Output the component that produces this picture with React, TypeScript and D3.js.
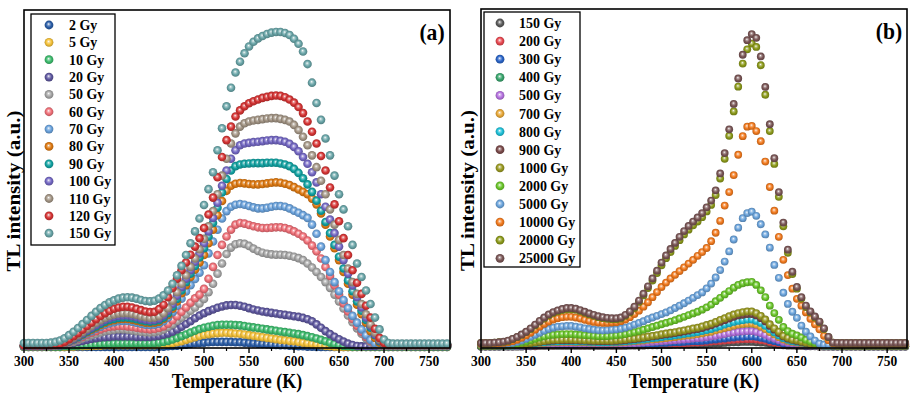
import React from "react";
import * as d3 from "d3";

// ---------- shared x grid (K) ----------
const TEMPERATURES = [
  300, 305, 310, 315, 320, 325, 330, 335, 340, 345,
  350, 355, 360, 365, 370, 375, 380, 385, 390, 395,
  400, 405, 410, 415, 420, 425, 430, 435, 440, 445,
  450, 455, 460, 465, 470, 475, 480, 485, 490, 495,
  500, 505, 510, 515, 520, 525, 530, 535, 540, 545,
  550, 555, 560, 565, 570, 575, 580, 585, 590, 595,
  600, 605, 610, 615, 620, 625, 630, 635, 640, 645,
  650, 655, 660, 665, 670, 675, 680, 685, 690, 695,
  700, 705, 710, 715, 720, 725, 730, 735, 740, 745,
  750, 755, 760, 765, 770,
];
const X_TICKS = [300, 350, 400, 450, 500, 550, 600, 650, 700, 750];

// ---------- panel (a) ----------
const LABELS_A = ["2 Gy", "5 Gy", "10 Gy", "20 Gy", "50 Gy", "60 Gy", "70 Gy", "80 Gy", "90 Gy", "100 Gy", "110 Gy", "120 Gy", "150 Gy"];
const COLORS_A = ["#2b5ea8", "#f5c23a", "#3dbb6d", "#5f58a0", "#a6a6a6", "#f07078", "#6aa2dc", "#df7a12", "#12a3a3", "#7468c4", "#a39585", "#d63434", "#69a5a8"];

const A_2 = [
  0.3, 0.3, 0.3, 0.3, 0.3, 0.3, 0.3, 0.3, 0.3, 0.3,
  0.3, 0.3, 0.3, 0.3, 0.3, 0.3, 0.3, 0.3, 0.3, 0.3,
  0.3, 0.3, 0.3, 0.3, 0.3, 0.3, 0.3, 0.3, 0.3, 0.3,
  0.4, 0.4, 0.5, 0.6, 0.7, 0.8, 1, 1.2, 1.4, 1.5,
  1.6, 1.7, 1.8, 1.8, 1.8, 1.8, 1.8, 1.7, 1.7, 1.6,
  1.5, 1.4, 1.3, 1.2, 1.1, 1, 0.9, 0.8, 0.8, 0.7,
  0.6, 0.5, 0.5, 0.4, 0.4, 0.3, 0.3, 0.3, 0.3, 0.3,
  0.3, 0.3, 0.3, 0.3, 0.3, 0.3, 0.3, 0.3, 0.3, 0.3,
  0.3, 0.3, 0.3, 0.3, 0.3, 0.3, 0.3, 0.3, 0.3, 0.3,
  0.3, 0.3, 0.3, 0.3, 0.3,
];
const A_5 = [
  0.3, 0.3, 0.3, 0.3, 0.3, 0.3, 0.3, 0.3, 0.3, 0.3,
  0.4, 0.4, 0.5, 0.5, 0.6, 0.6, 0.7, 0.7, 0.8, 0.8,
  0.8, 0.8, 0.8, 0.8, 0.8, 0.8, 0.8, 0.8, 0.8, 0.8,
  0.9, 1, 1.2, 1.4, 1.7, 2, 2.4, 2.8, 3.2, 3.6,
  3.9, 4.1, 4.3, 4.4, 4.5, 4.5, 4.4, 4.3, 4.2, 4,
  3.8, 3.6, 3.4, 3.2, 3, 2.8, 2.6, 2.4, 2.3, 2.1,
  2, 1.8, 1.6, 1.4, 1.2, 1, 0.8, 0.6, 0.5, 0.4,
  0.3, 0.3, 0.3, 0.3, 0.3, 0.3, 0.3, 0.3, 0.3, 0.3,
  0.3, 0.3, 0.3, 0.3, 0.3, 0.3, 0.3, 0.3, 0.3, 0.3,
  0.3, 0.3, 0.3, 0.3, 0.3,
];
const A_10 = [
  0.4, 0.4, 0.4, 0.4, 0.4, 0.4, 0.4, 0.4, 0.4, 0.5,
  0.5, 0.6, 0.7, 0.8, 0.9, 1, 1.1, 1.2, 1.3, 1.3,
  1.4, 1.4, 1.4, 1.4, 1.4, 1.4, 1.4, 1.4, 1.4, 1.5,
  1.6, 1.8, 2.1, 2.5, 3, 3.5, 4, 4.6, 5.1, 5.6,
  6, 6.3, 6.6, 6.8, 6.9, 6.9, 6.9, 6.8, 6.7, 6.5,
  6.3, 6.1, 5.9, 5.7, 5.5, 5.3, 5.1, 4.9, 4.7, 4.5,
  4.3, 4.1, 3.8, 3.5, 3.2, 2.8, 2.4, 2, 1.6, 1.2,
  0.9, 0.6, 0.5, 0.4, 0.4, 0.4, 0.4, 0.4, 0.4, 0.4,
  0.4, 0.4, 0.4, 0.4, 0.4, 0.4, 0.4, 0.4, 0.4, 0.4,
  0.4, 0.4, 0.4, 0.4, 0.4,
];
const A_20 = [
  0.5, 0.5, 0.5, 0.5, 0.5, 0.5, 0.5, 0.6, 0.7, 0.9,
  1.2, 1.5, 1.8, 2.1, 2.4, 2.7, 2.9, 3.1, 3.2, 3.3,
  3.4, 3.4, 3.4, 3.4, 3.4, 3.3, 3.3, 3.3, 3.3, 3.4,
  3.6, 3.9, 4.3, 4.8, 5.5, 6.3, 7.1, 7.9, 8.8, 9.6,
  10.3, 10.9, 11.4, 11.9, 12.3, 12.6, 12.7, 12.7, 12.5, 12.2,
  11.8, 11.4, 11.1, 10.8, 10.6, 10.4, 10.2, 10, 9.8, 9.6,
  9.4, 9.2, 8.9, 8.5, 7.9, 7, 6, 5, 4.1, 3.3,
  2.6, 1.9, 1.3, 0.9, 0.6, 0.5, 0.5, 0.5, 0.5, 0.5,
  0.5, 0.5, 0.5, 0.5, 0.5, 0.5, 0.5, 0.5, 0.5, 0.5,
  0.5, 0.5, 0.5, 0.5, 0.5,
];
const A_50 = [
  0.5, 0.5, 0.5, 0.5, 0.5, 0.5, 0.6, 0.7, 0.8, 1.1,
  1.4, 1.8, 2.3, 2.8, 3.3, 3.8, 4.2, 4.6, 5, 5.2,
  5.4, 5.5, 5.5, 5.4, 5.2, 5, 4.8, 4.7, 4.6, 4.7,
  5, 5.5, 6.2, 7, 8, 9, 10, 11, 12, 13.2,
  14.5, 16.5, 19, 22, 25, 27.8, 29.7, 30.7, 31, 30.8,
  30.2, 29.4, 28.7, 28.2, 27.9, 27.7, 27.6, 27.6, 27.5, 27.3,
  27, 26.6, 26, 25, 23.8, 22.5, 21, 19.5, 17.8, 15.8,
  13.8, 11.7, 9.6, 7.6, 5.8, 4.2, 2.8, 1.7, 1, 0.7,
  0.6, 0.6, 0.6, 0.6, 0.6, 0.6, 0.6, 0.6, 0.6, 0.6,
  0.6, 0.6, 0.6, 0.6, 0.6,
];
const A_60 = [
  0.6, 0.6, 0.6, 0.6, 0.6, 0.6, 0.7, 0.8, 1, 1.3,
  1.7, 2.2, 2.7, 3.3, 3.9, 4.5, 5, 5.5, 5.9, 6.2,
  6.4, 6.5, 6.5, 6.4, 6.2, 6, 5.8, 5.6, 5.5, 5.6,
  5.9, 6.4, 7.2, 8.2, 9.4, 10.7, 12, 13.4, 14.7, 15.8,
  17.5, 20.5, 24, 27.5, 30.5, 33, 35, 36.5, 37, 36.8,
  36.4, 36, 35.7, 35.5, 35.5, 35.6, 35.7, 35.7, 35.5, 35.1,
  34.5, 33.8, 33, 31.8, 30.3, 28.6, 26.5, 24, 21.3, 18.5,
  15.8, 13.2, 10.8, 8.6, 6.6, 4.8, 3.3, 2.1, 1.3, 0.9,
  0.8, 0.8, 0.8, 0.8, 0.8, 0.8, 0.8, 0.8, 0.8, 0.8,
  0.8, 0.8, 0.8, 0.8, 0.8,
];
const A_70 = [
  0.7, 0.7, 0.7, 0.7, 0.7, 0.7, 0.8, 0.9, 1, 1.3,
  1.8, 2.3, 2.9, 3.6, 4.3, 5, 5.7, 6.3, 6.9, 7.3,
  7.6, 7.9, 8, 8, 7.8, 7.5, 7.2, 6.9, 6.8, 6.9,
  7.2, 7.9, 9, 10.6, 12.5, 14.6, 16.7, 18.6, 20.4, 22.3,
  24.5, 28, 31.5, 35, 38.3, 40.5, 41.8, 42.4, 42.6, 42.4,
  42, 41.6, 41.3, 41.3, 41.5, 41.8, 42, 42, 41.8, 41.3,
  40.6, 40, 39.3, 38.5, 36.5, 33.8, 30, 26, 22.5, 19.5,
  16.8, 14.2, 11.8, 9.5, 7.5, 5.5, 3.8, 2.4, 1.4, 1,
  0.9, 0.9, 0.9, 0.9, 0.9, 0.9, 0.9, 0.9, 0.9, 0.9,
  0.9, 0.9, 0.9, 0.9, 0.9,
];
const A_80 = [
  0.7, 0.7, 0.7, 0.7, 0.7, 0.7, 0.8, 0.9, 1.1, 1.4,
  1.9, 2.5, 3.2, 3.9, 4.7, 5.4, 6.1, 6.8, 7.4, 7.9,
  8.2, 8.5, 8.6, 8.6, 8.4, 8.1, 7.8, 7.5, 7.4, 7.5,
  7.8, 8.6, 9.8, 11.6, 13.8, 16.2, 18.6, 21, 23.2, 25.3,
  27.5, 31, 35, 39.3, 43.5, 46.5, 48, 48.6, 48.8, 48.7,
  48.5, 48.4, 48.4, 48.5, 48.7, 48.9, 49, 48.9, 48.6, 48.2,
  47.6, 46.9, 46.2, 45.5, 44.2, 42.5, 39.8, 36.5, 33, 29.5,
  26, 22.5, 19, 15.8, 12.8, 10, 7.5, 5, 3, 1.6,
  1, 0.9, 0.9, 0.9, 0.9, 0.9, 0.9, 0.9, 0.9, 0.9,
  0.9, 0.9, 0.9, 0.9, 0.9,
];
const A_90 = [
  0.7, 0.7, 0.7, 0.7, 0.7, 0.7, 0.8, 0.9, 1.1, 1.5,
  2, 2.6, 3.3, 4.1, 4.9, 5.7, 6.4, 7.1, 7.8, 8.3,
  8.6, 8.9, 9, 9, 8.8, 8.5, 8.2, 7.9, 7.8, 7.9,
  8.2, 9, 10.3, 12.2, 14.5, 17, 19.5, 22, 24.3, 26.8,
  29.5, 33, 37, 41.5, 46, 50, 52.5, 53.8, 54.3, 54.5,
  54.6, 54.7, 54.7, 54.7, 54.8, 54.8, 54.8, 54.6, 54.3, 53.8,
  53, 51.8, 50.2, 48.4, 46.2, 43.6, 40.6, 37.3, 34, 30.5,
  27, 23.5, 20, 16.8, 13.8, 11, 8.3, 6, 3.8, 2,
  1, 0.9, 0.9, 0.9, 0.9, 0.9, 0.9, 0.9, 0.9, 0.9,
  0.9, 0.9, 0.9, 0.9, 0.9,
];
const A_100 = [
  0.7, 0.7, 0.7, 0.7, 0.7, 0.7, 0.8, 0.9, 1.1, 1.5,
  2, 2.7, 3.5, 4.3, 5.2, 6, 6.8, 7.6, 8.3, 8.8,
  9.2, 9.5, 9.6, 9.6, 9.4, 9.1, 8.7, 8.4, 8.2, 8.3,
  8.7, 9.6, 11, 13, 15.5, 18, 20.5, 23, 25.5, 28,
  31, 34.5, 38.5, 43, 48, 52.5, 56, 58.5, 60, 60.5,
  60.7, 60.9, 61, 61.2, 61.4, 61.5, 61.5, 61.3, 61, 60.4,
  59.5, 58.2, 56.5, 54.5, 52, 49, 45.5, 41.8, 38, 34,
  30, 26, 22, 18.5, 15, 12, 9, 6.5, 4, 2.2,
  1.1, 0.9, 0.9, 0.9, 0.9, 0.9, 0.9, 0.9, 0.9, 0.9,
  0.9, 0.9, 0.9, 0.9, 0.9,
];
const A_110 = [
  0.8, 0.8, 0.8, 0.8, 0.8, 0.8, 0.9, 1, 1.2, 1.6,
  2.2, 3, 3.8, 4.7, 5.6, 6.5, 7.4, 8.2, 8.9, 9.5,
  9.9, 10.2, 10.3, 10.3, 10.1, 9.8, 9.4, 9.1, 8.9, 9,
  9.4, 10.3, 11.8, 14, 16.5, 19, 21.5, 24, 26.5, 29.2,
  32.3, 36, 40.5, 45.5, 51, 56, 60.5, 63.5, 65.5, 66.5,
  67, 67.3, 67.5, 67.7, 67.9, 68, 68, 67.8, 67.5, 67,
  66, 64.5, 62.5, 60, 57, 53.5, 49.5, 45.5, 41, 36.5,
  32, 27.5, 23.5, 19.5, 16, 13, 10, 7, 4.5, 2.5,
  1.2, 1, 1, 1, 1, 1, 1, 1, 1, 1,
  1, 1, 1, 1, 1,
];
const A_120 = [
  0.8, 0.8, 0.8, 0.8, 0.8, 0.8, 0.9, 1, 1.2, 1.8,
  2.6, 3.5, 4.4, 5.4, 6.5, 7.5, 8.5, 9.5, 10.3, 11,
  11.6, 12, 12.2, 12.2, 12, 11.6, 11.2, 10.8, 10.6, 10.7,
  11.5, 12.8, 15, 17.8, 20.5, 23, 25.3, 27.6, 30, 32.5,
  35.5, 39.5, 44.5, 50.5, 56.5, 61.5, 65.5, 68.5, 70.3, 71.5,
  72.4, 73, 73.5, 74, 74.3, 74.6, 74.7, 74.6, 74.2, 73.5,
  72.6, 71.3, 69.5, 67, 64, 60.5, 56.8, 52.5, 47.5, 42.5,
  37.5, 32.5, 27.5, 23, 19.3, 16, 12.5, 9, 5.7, 3,
  1.5, 1, 1, 1, 1, 1, 1, 1, 1, 1,
  1, 1, 1, 1, 1,
];
const A_150 = [
  1.5, 1.5, 1.5, 1.5, 1.5, 1.5, 1.6, 1.8, 2.2, 2.9,
  3.8, 4.8, 5.9, 7.1, 8.3, 9.5, 10.7, 11.8, 12.7, 13.5,
  14.1, 14.6, 14.9, 15, 14.9, 14.6, 14.2, 13.9, 13.8, 14,
  14.6, 15.6, 17, 19, 21.5, 24.3, 27.5, 31, 34.5, 38.3,
  42.3, 47, 52, 58.5, 65, 71.5, 77, 81.5, 84.7, 87.2,
  89.2, 90.6, 91.6, 92.3, 92.9, 93.3, 93.5, 93.5, 93.2, 92.6,
  91.5, 90, 87.7, 84, 78.5, 72.5, 67.5, 62, 57, 51,
  45.5, 41, 36, 30.5, 25, 21, 17, 13, 9, 5.5,
  2.5, 1.5, 1.3, 1.3, 1.3, 1.3, 1.3, 1.3, 1.3, 1.3,
  1.3, 1.3, 1.3, 1.3, 1.3,
];
const SERIES_A = [A_2, A_5, A_10, A_20, A_50, A_60, A_70, A_80, A_90, A_100, A_110, A_120, A_150];

// ---------- panel (b) ----------
const LABELS_B = ["150 Gy", "200 Gy", "300 Gy", "400 Gy", "500 Gy", "700 Gy", "800 Gy", "900 Gy", "1000 Gy", "2000 Gy", "5000 Gy", "10000 Gy", "20000 Gy", "25000 Gy"];
const COLORS_B = ["#5a5a5a", "#e84850", "#2a64c8", "#3aa66e", "#b673e0", "#e8a838", "#1ec0d8", "#7a4a4a", "#9a9a22", "#6ac62a", "#6ba4dc", "#f27a1e", "#8c9a1a", "#7a5656"];

const B_150 = [
  0.4, 0.4, 0.4, 0.4, 0.4, 0.4, 0.4, 0.4, 0.4, 0.4,
  0.5, 0.5, 0.5, 0.6, 0.6, 0.6, 0.6, 0.6, 0.6, 0.6,
  0.6, 0.6, 0.6, 0.6, 0.6, 0.6, 0.6, 0.6, 0.6, 0.6,
  0.6, 0.6, 0.6, 0.7, 0.7, 0.7, 0.7, 0.8, 0.8, 0.8,
  0.9, 0.9, 0.9, 1, 1, 1, 1.1, 1.1, 1.1, 1.2,
  1.2, 1.3, 1.4, 1.4, 1.5, 1.6, 1.7, 1.7, 1.8, 1.8,
  1.8, 1.7, 1.6, 1.5, 1.3, 1.1, 1, 0.8, 0.7, 0.7,
  0.6, 0.6, 0.5, 0.5, 0.5, 0.4, 0.4, 0.4, 0.4, 0.4,
  0.4, 0.4, 0.4, 0.4, 0.4, 0.4, 0.4, 0.4, 0.4, 0.4,
  0.4, 0.4, 0.4, 0.4, 0.4,
];
const B_200 = [
  0.5, 0.5, 0.5, 0.5, 0.5, 0.5, 0.5, 0.5, 0.6, 0.6,
  0.6, 0.7, 0.7, 0.8, 0.8, 0.8, 0.8, 0.9, 0.9, 0.9,
  0.9, 0.9, 0.8, 0.8, 0.8, 0.8, 0.8, 0.8, 0.8, 0.8,
  0.8, 0.8, 0.9, 0.9, 0.9, 1, 1, 1.1, 1.1, 1.2,
  1.2, 1.2, 1.3, 1.3, 1.4, 1.4, 1.5, 1.6, 1.6, 1.7,
  1.8, 1.9, 2, 2.1, 2.2, 2.3, 2.4, 2.5, 2.6, 2.6,
  2.6, 2.5, 2.3, 2.1, 1.8, 1.6, 1.3, 1.1, 1, 0.9,
  0.8, 0.8, 0.7, 0.6, 0.6, 0.5, 0.5, 0.5, 0.5, 0.5,
  0.5, 0.5, 0.5, 0.5, 0.5, 0.5, 0.5, 0.5, 0.5, 0.5,
  0.5, 0.5, 0.5, 0.5, 0.5,
];
const B_300 = [
  0.5, 0.5, 0.5, 0.5, 0.5, 0.5, 0.5, 0.5, 0.6, 0.6,
  0.7, 0.7, 0.8, 0.9, 0.9, 1, 1, 1, 1, 1,
  1, 1, 1, 1, 1, 0.9, 0.9, 0.9, 0.9, 0.9,
  1, 1, 1, 1.1, 1.1, 1.2, 1.2, 1.3, 1.3, 1.4,
  1.5, 1.5, 1.6, 1.7, 1.7, 1.8, 1.9, 2, 2, 2.1,
  2.2, 2.4, 2.5, 2.7, 2.8, 3, 3.1, 3.3, 3.3, 3.4,
  3.4, 3.3, 3, 2.7, 2.3, 2, 1.7, 1.3, 1.2, 1,
  1, 0.9, 0.7, 0.7, 0.6, 0.6, 0.5, 0.5, 0.5, 0.5,
  0.5, 0.5, 0.5, 0.5, 0.5, 0.5, 0.5, 0.5, 0.5, 0.5,
  0.5, 0.5, 0.5, 0.5, 0.5,
];
const B_400 = [
  0.5, 0.5, 0.5, 0.5, 0.5, 0.5, 0.6, 0.6, 0.6, 0.7,
  0.8, 0.9, 1.1, 1.2, 1.3, 1.4, 1.4, 1.4, 1.5, 1.5,
  1.5, 1.4, 1.4, 1.4, 1.4, 1.3, 1.3, 1.3, 1.3, 1.3,
  1.4, 1.4, 1.5, 1.6, 1.7, 1.7, 1.9, 2, 2.1, 2.2,
  2.3, 2.4, 2.6, 2.7, 2.8, 3, 3.1, 3.3, 3.4, 3.6,
  3.8, 4, 4.3, 4.6, 4.9, 5.2, 5.5, 5.7, 5.9, 6,
  6, 5.7, 5.3, 4.7, 4, 3.3, 2.7, 2.1, 1.7, 1.5,
  1.4, 1.2, 1, 0.8, 0.7, 0.6, 0.6, 0.6, 0.5, 0.5,
  0.5, 0.5, 0.5, 0.5, 0.5, 0.5, 0.5, 0.5, 0.5, 0.5,
  0.5, 0.5, 0.5, 0.5, 0.5,
];
const B_500 = [
  0.5, 0.5, 0.5, 0.5, 0.5, 0.5, 0.6, 0.6, 0.6, 0.7,
  0.8, 0.9, 1, 1.1, 1.1, 1.2, 1.2, 1.3, 1.3, 1.3,
  1.3, 1.3, 1.2, 1.2, 1.2, 1.2, 1.1, 1.1, 1.1, 1.2,
  1.2, 1.2, 1.3, 1.4, 1.4, 1.5, 1.6, 1.7, 1.8, 1.9,
  2, 2.1, 2.2, 2.3, 2.4, 2.5, 2.6, 2.8, 2.9, 3,
  3.2, 3.4, 3.6, 3.9, 4.1, 4.4, 4.6, 4.8, 4.9, 5,
  5, 4.8, 4.4, 3.9, 3.3, 2.8, 2.3, 1.8, 1.5, 1.3,
  1.2, 1.1, 0.9, 0.8, 0.7, 0.6, 0.6, 0.6, 0.5, 0.5,
  0.5, 0.5, 0.5, 0.5, 0.5, 0.5, 0.5, 0.5, 0.5, 0.5,
  0.5, 0.5, 0.5, 0.5, 0.5,
];
const B_700 = [
  0.6, 0.6, 0.6, 0.6, 0.6, 0.6, 0.7, 0.7, 0.8, 0.9,
  1, 1.1, 1.3, 1.4, 1.5, 1.6, 1.7, 1.7, 1.8, 1.8,
  1.8, 1.7, 1.7, 1.7, 1.6, 1.6, 1.6, 1.6, 1.6, 1.6,
  1.6, 1.7, 1.8, 1.9, 2, 2.1, 2.2, 2.4, 2.5, 2.6,
  2.8, 2.9, 3.1, 3.2, 3.4, 3.6, 3.7, 3.9, 4.1, 4.3,
  4.6, 4.8, 5.2, 5.5, 5.9, 6.2, 6.6, 6.9, 7.1, 7.2,
  7.2, 6.9, 6.3, 5.6, 4.7, 4, 3.2, 2.5, 2.1, 1.8,
  1.6, 1.4, 1.2, 1, 0.8, 0.7, 0.7, 0.7, 0.6, 0.6,
  0.6, 0.6, 0.6, 0.6, 0.6, 0.6, 0.6, 0.6, 0.6, 0.6,
  0.6, 0.6, 0.6, 0.6, 0.6,
];
const B_800 = [
  0.6, 0.6, 0.6, 0.6, 0.6, 0.6, 0.7, 0.7, 0.8, 0.9,
  1.1, 1.2, 1.4, 1.6, 1.7, 1.8, 1.9, 1.9, 2, 2,
  2, 1.9, 1.9, 1.9, 1.8, 1.8, 1.7, 1.7, 1.7, 1.8,
  1.8, 1.9, 2, 2.1, 2.2, 2.4, 2.5, 2.7, 2.9, 3,
  3.2, 3.4, 3.5, 3.7, 3.9, 4.1, 4.3, 4.5, 4.7, 5,
  5.3, 5.6, 6, 6.4, 6.9, 7.3, 7.7, 8, 8.2, 8.4,
  8.4, 8, 7.4, 6.5, 5.5, 4.6, 3.7, 2.9, 2.4, 2,
  1.8, 1.6, 1.3, 1.1, 0.9, 0.8, 0.7, 0.7, 0.6, 0.6,
  0.6, 0.6, 0.6, 0.6, 0.6, 0.6, 0.6, 0.6, 0.6, 0.6,
  0.6, 0.6, 0.6, 0.6, 0.6,
];
const B_900 = [
  0.7, 0.7, 0.7, 0.7, 0.7, 0.7, 0.8, 0.9, 0.9, 1.1,
  1.2, 1.4, 1.6, 1.8, 2, 2.1, 2.2, 2.3, 2.3, 2.3,
  2.3, 2.3, 2.2, 2.2, 2.1, 2.1, 2, 2, 2, 2.1,
  2.1, 2.2, 2.3, 2.5, 2.6, 2.8, 3, 3.2, 3.4, 3.6,
  3.8, 4, 4.2, 4.4, 4.6, 4.9, 5.1, 5.4, 5.6, 5.9,
  6.3, 6.7, 7.2, 7.7, 8.2, 8.7, 9.2, 9.6, 9.8, 10,
  10, 9.6, 8.8, 7.8, 6.5, 5.4, 4.4, 3.4, 2.8, 2.4,
  2.1, 1.8, 1.5, 1.2, 1, 0.9, 0.8, 0.8, 0.7, 0.7,
  0.7, 0.7, 0.7, 0.7, 0.7, 0.7, 0.7, 0.7, 0.7, 0.7,
  0.7, 0.7, 0.7, 0.7, 0.7,
];
const B_1000 = [
  0.7, 0.7, 0.7, 0.7, 0.8, 0.8, 0.8, 0.9, 1, 1.1,
  1.3, 1.5, 1.7, 1.9, 2.1, 2.3, 2.4, 2.4, 2.5, 2.5,
  2.5, 2.4, 2.4, 2.3, 2.3, 2.2, 2.2, 2.2, 2.2, 2.2,
  2.3, 2.4, 2.5, 2.7, 2.8, 3, 3.2, 3.4, 3.6, 3.8,
  4.1, 4.3, 4.5, 4.7, 5, 5.2, 5.5, 5.8, 6, 6.4,
  6.8, 7.2, 7.7, 8.3, 8.8, 9.4, 9.9, 10.3, 10.6, 10.8,
  10.8, 10.3, 9.5, 8.4, 7, 5.8, 4.8, 3.6, 3, 2.5,
  2.3, 1.9, 1.6, 1.3, 1.1, 0.9, 0.8, 0.8, 0.8, 0.7,
  0.7, 0.7, 0.7, 0.7, 0.7, 0.7, 0.7, 0.7, 0.7, 0.7,
  0.7, 0.7, 0.7, 0.7, 0.7,
];
const B_2000 = [
  0.8, 0.8, 0.8, 0.8, 0.9, 0.9, 1, 1.1, 1.3, 1.6,
  1.9, 2.3, 2.7, 3.1, 3.4, 3.7, 3.9, 4, 4.1, 4.1,
  4.1, 4, 3.9, 3.8, 3.7, 3.6, 3.5, 3.5, 3.5, 3.6,
  3.7, 3.9, 4.1, 4.4, 4.7, 5, 5.4, 5.8, 6.2, 6.6,
  7, 7.4, 7.8, 8.2, 8.7, 9.2, 9.7, 10.2, 10.7, 11.3,
  12, 12.8, 13.8, 14.8, 15.8, 16.8, 17.8, 18.6, 19.1, 19.4,
  19.5, 18.6, 17, 15, 12.5, 10.3, 8.3, 6.2, 5, 4.2,
  3.7, 3.1, 2.4, 1.9, 1.5, 1.2, 1, 1, 1, 1,
  1, 1, 1, 1, 1, 1, 1, 1, 1, 1,
  1, 1, 1, 1, 1,
];
const B_5000 = [
  1, 1, 1, 1, 1.1, 1.2, 1.3, 1.5, 1.8, 2.2,
  2.7, 3.3, 3.9, 4.5, 5.1, 5.6, 6, 6.3, 6.4, 6.5,
  6.5, 6.3, 6.1, 5.8, 5.6, 5.4, 5.3, 5.2, 5.3, 5.4,
  5.5, 5.7, 6, 6.4, 6.9, 7.4, 7.9, 8.5, 9, 9.5,
  10, 10.5, 11.1, 11.8, 12.5, 13.2, 14, 14.8, 15.6, 16.4,
  17.6, 19, 20.8, 23, 25.5, 28.5, 32, 35.5, 38.3, 39.8,
  40.2, 39, 36.5, 33.5, 29.6, 24.5, 20.7, 16.3, 13, 10.7,
  8.9, 6.6, 4.8, 3.4, 2.2, 1.3, 1, 1, 1, 1,
  1, 1, 1, 1, 1, 1, 1, 1, 1, 1,
  1, 1, 1, 1, 1,
];
const B_10000 = [
  1.2, 1.2, 1.2, 1.3, 1.4, 1.5, 1.7, 2, 2.4, 3,
  3.7, 4.5, 5.4, 6.3, 7.1, 7.8, 8.4, 8.8, 9.1, 9.2,
  9.2, 9, 8.7, 8.3, 8, 7.7, 7.5, 7.4, 7.4, 7.5,
  7.6, 7.9, 8.4, 9.1, 10, 11, 12.2, 13.5, 15, 16.5,
  18, 19.3, 20.5, 21.6, 22.7, 23.8, 24.9, 26, 27.2, 28.3,
  29.5, 31.5, 34, 37.5, 42, 46, 51, 57, 62.5, 65.3,
  65.5, 64, 61, 55, 47.5, 40.5, 32.8, 26, 21.5, 17.5,
  14.5, 12.5, 10.5, 8.6, 7, 5.5, 3.6, 2.3, 1.4, 1.2,
  1.2, 1.2, 1.2, 1.2, 1.2, 1.2, 1.2, 1.2, 1.2, 1.2,
  1.2, 1.2, 1.2, 1.2, 1.2,
];
const B_20000 = [
  1.5, 1.5, 1.5, 1.6, 1.7, 1.8, 2.1, 2.6, 3.2, 3.9,
  4.7, 5.6, 6.7, 7.8, 8.7, 9.6, 10.3, 10.8, 11.2, 11.4,
  11.4, 11.3, 10.9, 10.4, 9.9, 9.5, 9.1, 8.8, 8.6, 8.5,
  8.5, 8.7, 9.5, 10.5, 11.8, 13.6, 15.5, 17.7, 19.9, 22.1,
  24.4, 26.5, 28.3, 30.1, 31.8, 33.5, 34.9, 36.2, 37.3, 38.6,
  40.3, 42.2, 45.1, 50, 55.8, 62.6, 69.8, 77.1, 83.9, 88.1,
  89.8, 88.8, 83.4, 74.7, 64, 54.3, 44.6, 35.9, 28.1, 21.8,
  17.5, 14.6, 12.1, 10.5, 9, 7.6, 5.6, 3.2, 1.6, 1.5,
  1.5, 1.5, 1.5, 1.5, 1.5, 1.5, 1.5, 1.5, 1.5, 1.5,
  1.5, 1.5, 1.5, 1.5, 1.5,
];
const B_25000 = [
  1.5, 1.5, 1.5, 1.6, 1.7, 1.9, 2.2, 2.7, 3.3, 4,
  4.8, 5.8, 6.9, 8, 9, 9.9, 10.6, 11.1, 11.5, 11.8,
  11.8, 11.6, 11.2, 10.7, 10.2, 9.8, 9.4, 9.1, 8.9, 8.8,
  8.8, 9, 9.8, 10.8, 12.2, 14, 16, 18.2, 20.5, 22.8,
  25.2, 27.3, 29.2, 31, 32.8, 34.5, 36, 37.3, 38.5, 39.8,
  41.5, 43.5, 46.5, 51.5, 57.5, 64.5, 72, 79.5, 86.5, 90.8,
  92.6, 91.5, 86, 77, 66, 56, 46, 37, 29, 22.5,
  18, 15, 12.5, 10.8, 9.3, 7.8, 5.8, 3.3, 1.6, 1.5,
  1.5, 1.5, 1.5, 1.5, 1.5, 1.5, 1.5, 1.5, 1.5, 1.5,
  1.5, 1.5, 1.5, 1.5, 1.5,
];
const SERIES_B = [B_150, B_200, B_300, B_400, B_500, B_700, B_800, B_900, B_1000, B_2000, B_5000, B_10000, B_20000, B_25000];

const FONT = "'Liberation Serif', 'Times New Roman', serif";

function SqText({ x, y, size, anchor = "start", rotate = false, children }: any) {
  const tr = rotate
    ? `translate(${x},${y}) scale(0.9,1) rotate(-90)`
    : `translate(${x},${y}) scale(0.9,1)`;
  return (
    <text transform={tr} fontFamily={FONT} fontWeight="bold" fontSize={size} textAnchor={anchor} fill="#000">
      {children}
    </text>
  );
}

function Gradients({ id, colors }: { id: string; colors: string[] }) {
  return (
    <>
      {colors.map((c, i) => (
        <radialGradient key={i} id={`${id}-${i}`} cx="50%" cy="50%" r="55%" fx="45%" fy="38%">
          <stop offset="0%" stopColor="#ffffff" />
          <stop offset="22%" stopColor={d3.interpolateRgb(c, "#ffffff")(0.45)} />
          <stop offset="55%" stopColor={c} />
          <stop offset="100%" stopColor={d3.rgb(c).darker(0.9).formatHex()} />
        </radialGradient>
      ))}
    </>
  );
}

function Panel(props: any) {
  const { id, left, right, top, bottom, xMax, labels, colors, series, r, legend, tag, yTitleX } = props;
  const x = d3.scaleLinear().domain([300, xMax]).range([left, right]);
  const y = d3.scaleLinear().domain([0, 100]).range([bottom, top]);
  const minor = X_TICKS.map((t) => t + 25).filter((t) => t <= xMax);
  const cx = (left + right) / 2;
  return (
    <g>
      <defs>
        <Gradients id={id} colors={colors} />
      </defs>
      {series.map((vals: number[], si: number) => (
        <g key={si}>
          {vals.map((v, k) => (
            <circle key={k} cx={x(TEMPERATURES[k])} cy={y(v)} r={r} fill={`url(#${id}-${si})`} />
          ))}
        </g>
      ))}
      <rect x={left} y={top} width={right - left} height={bottom - top} fill="none" stroke="#000" strokeWidth={1.6} />
      {X_TICKS.map((t) => (
        <g key={t}>
          <line x1={x(t)} x2={x(t)} y1={bottom} y2={bottom + 5} stroke="#000" strokeWidth={1.4} />
          <SqText x={x(t)} y={bottom + 18} size={15} anchor="middle">{t}</SqText>
        </g>
      ))}
      {minor.map((t) => (
        <line key={t} x1={x(t)} x2={x(t)} y1={bottom} y2={bottom + 3} stroke="#000" strokeWidth={1.2} />
      ))}
      <SqText x={cx} y={bottom + 40} size={20} anchor="middle">Temperature (K)</SqText>
      <SqText x={yTitleX} y={(top + bottom) / 2 + 12} size={21} anchor="middle" rotate>TL intensity (a.u.)</SqText>
      <SqText x={right - 18} y={top + 30} size={24} anchor="middle">{tag}</SqText>
      <rect x={legend.x} y={legend.y} width={legend.w} height={legend.h} fill="#fff" stroke="#000" strokeWidth={1.3} />
      {labels.map((lab: string, i: number) => {
        const ly = legend.y0 + i * legend.dy;
        return (
          <g key={lab}>
            <circle cx={legend.mx} cy={ly} r={4.4} fill={`url(#${id}-${i})`} />
            <SqText x={legend.tx} y={ly + 5} size={15.5}>{lab}</SqText>
          </g>
        );
      })}
    </g>
  );
}

export default function App() {
  return (
    <svg width={918} height={398} style={{ position: "absolute", left: 0, top: 0, background: "#fff" }}>
      <rect x={0} y={0} width={918} height={398} fill="#fff" />
      <Panel
        id="ga" left={24} right={450} top={10} bottom={348} xMax={773.3}
        labels={LABELS_A} colors={COLORS_A} series={SERIES_A} r={4.3} tag="(a)" yTitleX={20}
        legend={{ x: 31, y: 14, w: 84, h: 231, y0: 25, dy: 17.35, mx: 49, tx: 69 }}
      />
      <Panel
        id="gb" left={481} right={907} top={9} bottom={348} xMax={772}
        labels={LABELS_B} colors={COLORS_B} series={SERIES_B} r={3.9} tag="(b)" yTitleX={474}
        legend={{ x: 484, y: 12, w: 96, h: 255, y0: 23, dy: 18.1, mx: 500, tx: 519 }}
      />
    </svg>
  );
}
